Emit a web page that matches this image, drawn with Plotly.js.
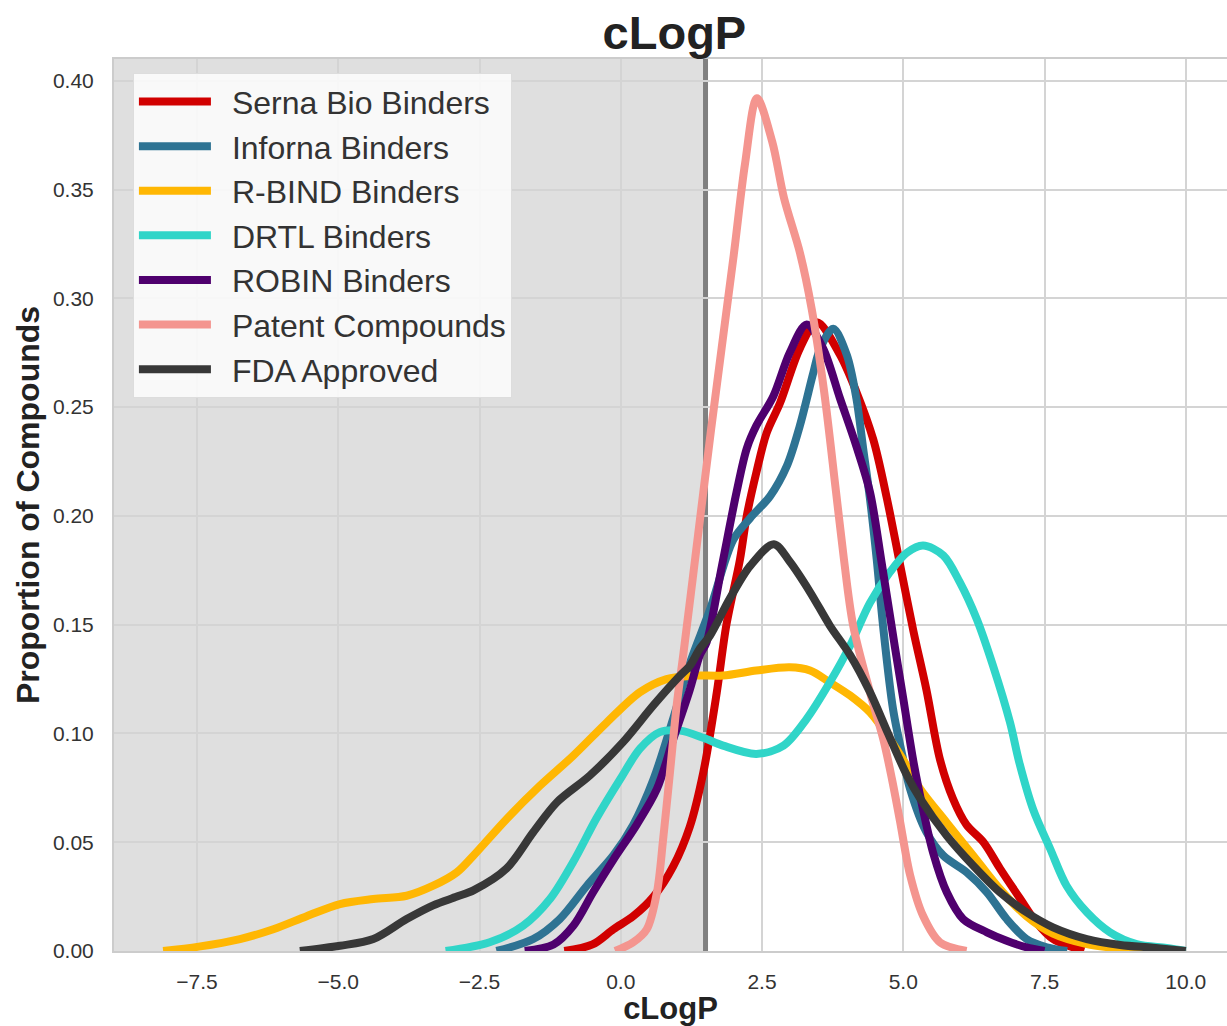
<!DOCTYPE html>
<html>
<head>
<meta charset="utf-8">
<script src="https://cdn.plot.ly/plotly-3.0.1.min.js"></script>
<style>html,body{margin:0;padding:0;background:#fff;}#chart{width:1227px;height:1026px;}</style>
</head>
<body>
<div id="chart"></div>
<script>
// ---- data ----
const seriesNames = ["Serna Bio Binders","Inforna Binders","R-BIND Binders","DRTL Binders","ROBIN Binders","Patent Compounds","FDA Approved"];
const seriesColors = ["#d10000","#2e7393","#ffb703","#30d5c8","#4f006e","#f4958f","#383838"];

const sernaX = [-1.0,-0.5,-0.13,0.22,0.58,0.93,1.22,1.46,1.70,1.87,2.11,2.23,2.40,2.58,2.82,3.17,3.47,3.88,4.17,4.47,4.71,4.94,5.18,5.41,5.65,5.88,6.12,6.42,6.71,7.07,7.36,7.65,8.0,8.2];
const sernaY = [0.0,0.003,0.010,0.016,0.025,0.039,0.057,0.082,0.119,0.150,0.180,0.200,0.220,0.238,0.252,0.277,0.289,0.274,0.257,0.235,0.208,0.178,0.147,0.120,0.088,0.070,0.058,0.050,0.038,0.024,0.013,0.0055,0.0017,0.0];

const infornaX = [-2.2,-1.55,-1.08,-0.60,-0.13,0.22,0.58,0.93,1.22,1.58,1.99,2.29,2.64,2.94,3.17,3.41,3.53,3.76,4.0,4.17,4.29,4.41,4.53,4.64,4.82,5.0,5.12,5.41,5.71,6.12,6.48,6.83,7.18,7.54,7.9];
const infornaY = [0.0,0.0055,0.0147,0.030,0.044,0.058,0.079,0.107,0.132,0.157,0.189,0.199,0.209,0.223,0.2415,0.266,0.277,0.286,0.274,0.254,0.231,0.208,0.180,0.150,0.111,0.088,0.0745,0.0546,0.0438,0.0362,0.027,0.0147,0.0055,0.0017,0.0];

const rbindX = [-8.1,-7.47,-6.74,-6.15,-5.56,-4.97,-4.38,-3.79,-3.32,-2.90,-2.61,-2.02,-1.43,-0.84,-0.25,0.34,0.81,1.28,1.81,2.40,2.99,3.35,3.70,4.06,4.41,4.76,5.06,5.30,5.77,6.24,6.71,7.18,7.65,8.25,8.84,9.3];
const rbindY = [0.0,0.002,0.0055,0.010,0.016,0.0216,0.0239,0.0254,0.030,0.0362,0.0438,0.0607,0.076,0.0898,0.105,0.119,0.125,0.1266,0.1266,0.1289,0.1304,0.1289,0.1235,0.1174,0.1097,0.0975,0.0852,0.0745,0.059,0.0438,0.0285,0.016,0.008,0.0032,0.0011,0.0];

const drtlX = [-3.1,-2.32,-1.73,-1.25,-0.84,-0.43,-0.01,0.34,0.69,1.05,1.46,1.81,2.40,2.88,3.29,3.70,4.06,4.41,4.76,5.06,5.35,5.71,6.0,6.30,6.59,6.89,7.05,7.30,7.60,7.89,8.25,8.66,9.13,9.66,10.0];
const drtlY = [0.0,0.004,0.0116,0.024,0.041,0.061,0.079,0.093,0.1006,0.1013,0.098,0.0944,0.0906,0.0944,0.1067,0.1235,0.1404,0.160,0.174,0.183,0.1864,0.1818,0.1695,0.1526,0.131,0.105,0.087,0.065,0.047,0.030,0.0178,0.0086,0.0032,0.0014,0.0];

const robinX = [-1.7,-1.19,-0.84,-0.49,-0.13,0.28,0.64,0.93,1.22,1.40,1.52,1.79,2.05,2.23,2.40,2.70,2.99,3.29,3.58,3.88,4.17,4.41,4.62,4.85,5.0,5.18,5.35,5.53,5.77,6.06,6.48,6.83,7.18,7.5];
const robinY = [0.0,0.003,0.0116,0.027,0.042,0.058,0.0745,0.0975,0.120,0.136,0.142,0.177,0.211,0.231,0.2415,0.255,0.275,0.288,0.277,0.254,0.232,0.211,0.178,0.140,0.116,0.087,0.065,0.045,0.027,0.0147,0.0086,0.0047,0.0017,0.0];

const patentX = [-0.1,0.22,0.46,0.64,0.75,0.87,0.99,1.11,1.28,1.60,2.0,2.2,2.41,2.68,2.89,3.17,3.38,3.6,3.81,3.95,4.11,4.41,4.65,4.8,4.94,5.12,5.35,5.65,6.12];
const patentY = [0.0,0.004,0.010,0.027,0.0515,0.082,0.113,0.137,0.1726,0.240,0.320,0.362,0.392,0.372,0.346,0.321,0.295,0.257,0.211,0.180,0.150,0.119,0.097,0.079,0.060,0.035,0.0162,0.004,0.0];

const fdaX = [-5.68,-4.97,-4.38,-3.79,-3.32,-2.90,-2.60,-2.02,-1.55,-1.13,-0.55,0.04,0.58,1.05,1.22,1.40,1.58,1.93,2.29,2.71,2.99,3.35,3.70,4.06,4.41,4.73,5.06,5.30,5.77,6.24,6.71,7.18,7.65,8.25,8.84,9.42,10.0];
const fdaY = [0.0,0.0024,0.0055,0.0147,0.021,0.025,0.028,0.038,0.0546,0.0684,0.0806,0.096,0.113,0.1266,0.131,0.139,0.145,0.162,0.177,0.187,0.179,0.165,0.1496,0.136,0.119,0.100,0.081,0.070,0.053,0.0392,0.027,0.0178,0.0109,0.0055,0.0028,0.0015,0.0];

const xTickVals = [-7.5,-5.0,-2.5,0.0,2.5,5.0,7.5,10.0];
const yTickVals = [0.00,0.05,0.10,0.15,0.20,0.25,0.30,0.35,0.40];
const thresholdX = 1.5;
const xRange = [-8.97, 10.73];
const yRange = [0, 0.41];

const xs = [sernaX, infornaX, rbindX, drtlX, robinX, patentX, fdaX];
const ys = [sernaY, infornaY, rbindY, drtlY, robinY, patentY, fdaY];

const traces = seriesNames.map((n, i) => ({
  type: 'scatter', mode: 'lines', name: '\u2002' + n,
  x: xs[i], y: ys[i],
  line: {color: seriesColors[i], width: 8, shape: 'spline', smoothing: 0.9},
  hoverinfo: 'skip'
}));

const font = "Liberation Sans, Arial, Helvetica, sans-serif";

const layout = {
  width: 1227, height: 1026,
  margin: {l: 114, r: 0, t: 59, b: 75},
  paper_bgcolor: '#ffffff', plot_bgcolor: '#ffffff',
  font: {family: font, color: '#333333'},
  title: {text: '<b>cLogP</b>', font: {size: 47, color: '#222222', family: font},
          x: 0.5035, xref: 'paper', xanchor: 'center', y: 0.968, yref: 'container', yanchor: 'middle'},
  xaxis: {
    range: xRange, tickvals: xTickVals, tickformat: '.1f',
    showgrid: true, gridcolor: '#d4d4d4', gridwidth: 2,
    zeroline: false, showline: true, linecolor: '#cccccc', linewidth: 2, mirror: true,
    ticks: '', ticklabelstandoff: 11,
    tickfont: {size: 21, color: '#333333', family: font},
    title: {text: '<b>cLogP</b>', font: {size: 31, color: '#222222', family: font}, standoff: 6}
  },
  yaxis: {
    range: yRange, tickvals: yTickVals, tickformat: '.2f',
    showgrid: true, gridcolor: '#d4d4d4', gridwidth: 2,
    zeroline: false, showline: true, linecolor: '#cccccc', linewidth: 2, mirror: true,
    ticks: '', ticklabelstandoff: 14,
    tickfont: {size: 21, color: '#333333', family: font},
    title: {text: '<b>Proportion of Compounds</b>', font: {size: 32, color: '#222222', family: font}, standoff: 4}
  },
  shapes: [
    {type: 'rect', xref: 'x', yref: 'paper', x0: xRange[0], x1: thresholdX, y0: 0, y1: 1,
     fillcolor: 'rgba(128,128,128,0.25)', line: {width: 0}, layer: 'between'},
    {type: 'line', xref: 'x', yref: 'paper', x0: thresholdX, x1: thresholdX, y0: 0, y1: 1,
     line: {color: '#808080', width: 5}, layer: 'between'}
  ],
  legend: {
    x: 0.017, y: 0.984, xanchor: 'left', yanchor: 'top',
    bgcolor: 'rgba(255,255,255,0.82)', bordercolor: '#dddddd', borderwidth: 1,
    font: {size: 32, color: '#333333', family: font},
    itemwidth: 72, tracegroupgap: 0
  },
  showlegend: true
};

Plotly.newPlot('chart', traces, layout, {displayModeBar: false, staticPlot: true});
</script>
</body>
</html>
